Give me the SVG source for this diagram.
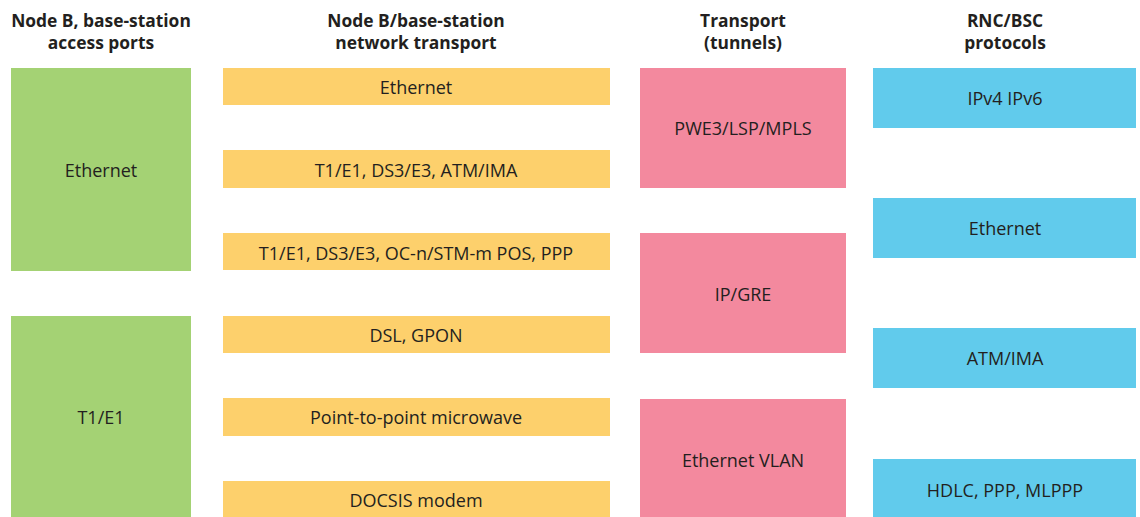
<svg xmlns="http://www.w3.org/2000/svg" width="1140" height="517" viewBox="0 0 1140 517">
  <style>
    .hdr { font-family: "Open Sans", "Noto Sans", sans-serif; font-size: 17.4px; font-weight: bold; fill: #231f20; text-anchor: middle; }
    .lbl { font-family: "Open Sans", "Noto Sans", sans-serif; font-size: 18px; fill: #231f20; text-anchor: middle; dominant-baseline: central; }
    .access { fill: #a4d274; }
    .net { fill: #fdd06c; }
    .tunnel { fill: #f3899e; }
    .proto { fill: #61cbec; }
  </style>
  <rect width="1140" height="517" fill="#ffffff"/>

  <!-- column headings -->
  <g id="headers">
    <text class="hdr" x="101" y="27">Node B, base-station</text>
    <text class="hdr" x="101" y="49">access ports</text>
    <text class="hdr" x="416" y="27">Node B/base-station</text>
    <text class="hdr" x="416" y="49">network transport</text>
    <text class="hdr" x="743" y="27">Transport</text>
    <text class="hdr" x="743" y="49">(tunnels)</text>
    <text class="hdr" x="1005" y="27">RNC/BSC</text>
    <text class="hdr" x="1005" y="49">protocols</text>
  </g>

  <!-- access ports -->
  <g id="access-ethernet">
    <rect class="access" x="11" y="68" width="180" height="203"/>
    <text class="lbl" x="101" y="170">Ethernet</text>
  </g>
  <g id="access-t1e1">
    <rect class="access" x="11" y="316" width="180" height="201"/>
    <text class="lbl" x="101" y="417">T1/E1</text>
  </g>

  <!-- network transport -->
  <g id="net-ethernet">
    <rect class="net" x="223" y="68" width="387" height="37"/>
    <text class="lbl" x="416" y="87">Ethernet</text>
  </g>
  <g id="net-atm">
    <rect class="net" x="223" y="150" width="387" height="38"/>
    <text class="lbl" x="416" y="170">T1/E1, DS3/E3, ATM/IMA</text>
  </g>
  <g id="net-pos">
    <rect class="net" x="223" y="233" width="387" height="37"/>
    <text class="lbl" x="416" y="253">T1/E1, DS3/E3, OC-n/STM-m POS, PPP</text>
  </g>
  <g id="net-dsl">
    <rect class="net" x="223" y="316" width="387" height="37"/>
    <text class="lbl" x="416" y="335">DSL, GPON</text>
  </g>
  <g id="net-microwave">
    <rect class="net" x="223" y="398" width="387" height="38"/>
    <text class="lbl" x="416" y="417">Point-to-point microwave</text>
  </g>
  <g id="net-docsis">
    <rect class="net" x="223" y="481" width="387" height="36"/>
    <text class="lbl" x="416" y="500">DOCSIS modem</text>
  </g>

  <!-- tunnels -->
  <g id="tunnel-mpls">
    <rect class="tunnel" x="640" y="68" width="206" height="120"/>
    <text class="lbl" x="743" y="128">PWE3/LSP/MPLS</text>
  </g>
  <g id="tunnel-gre">
    <rect class="tunnel" x="640" y="233" width="206" height="120"/>
    <text class="lbl" x="743" y="294">IP/GRE</text>
  </g>
  <g id="tunnel-vlan">
    <rect class="tunnel" x="640" y="399" width="206" height="118"/>
    <text class="lbl" x="743" y="460">Ethernet VLAN</text>
  </g>

  <!-- RNC/BSC protocols -->
  <g id="proto-ip">
    <rect class="proto" x="873" y="68" width="263" height="60"/>
    <text class="lbl" x="1005" y="98">IPv4 IPv6</text>
  </g>
  <g id="proto-ethernet">
    <rect class="proto" x="873" y="198" width="263" height="60"/>
    <text class="lbl" x="1005" y="228">Ethernet</text>
  </g>
  <g id="proto-atm">
    <rect class="proto" x="873" y="328" width="263" height="60"/>
    <text class="lbl" x="1005" y="358">ATM/IMA</text>
  </g>
  <g id="proto-hdlc">
    <rect class="proto" x="873" y="459" width="263" height="58"/>
    <text class="lbl" x="1005" y="490">HDLC, PPP, MLPPP</text>
  </g>

  <!-- no connectors are drawn between the columns -->
  <g id="connectors"/>
</svg>
